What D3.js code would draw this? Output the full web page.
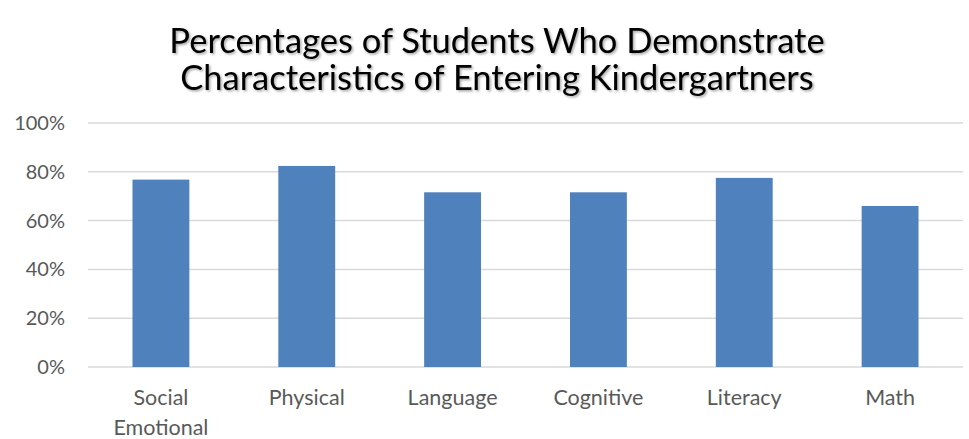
<!DOCTYPE html>
<html><head><meta charset="utf-8">
<script src="https://cdn.jsdelivr.net/npm/d3@7"></script>
<style>body{margin:0;background:#fff}svg{display:block}</style>
</head><body>
<script>
const categories = [["Social","Emotional"],["Physical"],["Language"],["Cognitive"],["Literacy"],["Math"]];
const values = [0.768, 0.824, 0.716, 0.716, 0.775, 0.66];
const yTicks = [0, 0.2, 0.4, 0.6, 0.8, 1.0];
const titleLines = ["Percentages of Students Who Demonstrate","Characteristics of Entering Kindergartners"];

const W = 969, H = 439;
const svg = d3.select("body").append("svg").attr("width", W).attr("height", H);
const defs = svg.append("defs");
const f = defs.append("filter").attr("id","sh").attr("x","-5%").attr("y","-20%").attr("width","110%").attr("height","140%");
f.append("feDropShadow").attr("dx",1.5).attr("dy",1.5).attr("stdDeviation",1.2).attr("flood-color","#000").attr("flood-opacity",0.35);

const font = "Lato, 'Open Sans', sans-serif";
const x = d3.scaleBand().domain(categories.map((d,i)=>i)).range([88, 963]).paddingInner(0.61).paddingOuter(0.305);
const y = d3.scaleLinear().domain([0,1]).range([367, 123]);

// gridlines
svg.append("g").selectAll("line").data(yTicks).join("line")
  .attr("x1",88).attr("x2",963).attr("y1",d=>y(d)).attr("y2",d=>y(d))
  .attr("stroke","#d9d9d9").attr("stroke-width",1.5);

// y labels
const yAxis = d3.axisLeft(y).tickValues(yTicks).tickFormat(d3.format(".0%")).tickSize(0).tickPadding(0);
const ya = svg.append("g").attr("transform","translate(65,0)").call(yAxis);
ya.select(".domain").remove();
ya.selectAll("text").attr("font-family",font).attr("font-size",20).attr("fill","#595959");

// bars
svg.append("g").selectAll("rect").data(values).join("rect")
  .attr("x",(d,i)=>x(i)).attr("width",x.bandwidth())
  .attr("y",d=>y(d)).attr("height",d=>y(0)-y(d))
  .attr("fill","#4f81bd");

// x labels
const xl = svg.append("g").selectAll("text").data(categories).join("text")
  .attr("x",(d,i)=>x(i)+x.bandwidth()/2).attr("y",405)
  .attr("text-anchor","middle").attr("font-family",font).attr("font-size",21.5).attr("fill","#595959");
xl.selectAll("tspan").data(d=>d).join("tspan")
  .attr("x",function(){return this.parentNode.getAttribute("x");})
  .attr("dy",(d,i)=>i?29.5:0).text(d=>d);

// title
svg.append("g").attr("filter","url(#sh)").selectAll("text").data(titleLines).join("text")
  .attr("x",497).attr("y",(d,i)=>53+i*37).attr("text-anchor","middle")
  .attr("font-family",font).attr("font-size",34.5).attr("fill","#000").text(d=>d);
</script>
</body></html>
